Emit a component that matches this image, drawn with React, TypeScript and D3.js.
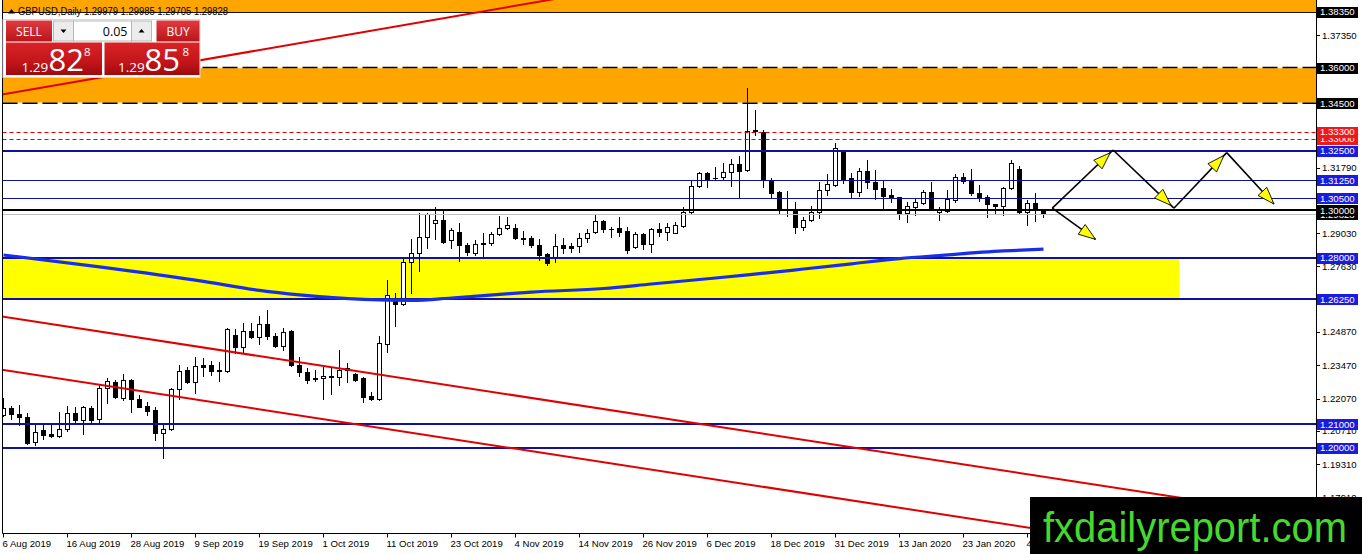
import React from "react";
import * as d3 from "d3";

// ---- data ----
const opens = [
  1.2138, 1.2166, 1.2141, 1.2128, 1.2025, 1.2074, 1.2058, 1.2051, 1.2077, 1.2145,
  1.2117, 1.2166, 1.2120, 1.2250, 1.2278, 1.2210, 1.2285, 1.2205, 1.2176, 1.2159,
  1.2061, 1.2077, 1.2246, 1.2327, 1.2278, 1.2347, 1.2347, 1.2326, 1.2324, 1.2474,
  1.2423, 1.2492, 1.2465, 1.2519, 1.2470, 1.2429, 1.2491, 1.2348, 1.2320, 1.2292,
  1.2292, 1.2296, 1.2299, 1.2334, 1.2310, 1.2292, 1.2218, 1.2204, 1.2436, 1.2622,
  1.2605, 1.2783, 1.2821, 1.2886, 1.2947, 1.2958, 1.2874, 1.2909, 1.2853, 1.2818,
  1.2860, 1.2860, 1.2899, 1.2923, 1.2923, 1.2881, 1.2881, 1.2853, 1.2814, 1.2797,
  1.2852, 1.2848, 1.2850, 1.2881, 1.2907, 1.2954, 1.2920, 1.2923, 1.2912, 1.2846,
  1.2899, 1.2857, 1.2919, 1.2907, 1.2905, 1.2934, 1.2991, 1.3101, 1.3155, 1.3136,
  1.3141, 1.3159, 1.3193, 1.3169, 1.3337, 1.3330, 1.3127, 1.3075, 1.3005, 1.3003,
  1.2930, 1.2958, 1.2991, 1.3085, 1.3106, 1.3246, 1.3134, 1.3077, 1.3166, 1.3117,
  1.3092, 1.3064, 1.3054, 1.2987, 1.3014, 1.3031, 1.3075, 1.2991, 1.2997, 1.3043,
  1.3138, 1.3124, 1.3071, 1.3054, 1.3024, 1.3017, 1.3092, 1.3173, 1.2993, 1.3029,
  1.29979,
];
const highs = [
  1.2208, 1.2176, 1.2178, 1.2145, 1.2096, 1.2096, 1.2100, 1.2149, 1.2176, 1.2173,
  1.2176, 1.2176, 1.2264, 1.2292, 1.2285, 1.2310, 1.2288, 1.2222, 1.2194, 1.2173,
  1.2103, 1.2250, 1.2348, 1.2341, 1.2380, 1.2376, 1.2366, 1.2362, 1.2503, 1.2498,
  1.2524, 1.2524, 1.2554, 1.2580, 1.2484, 1.2503, 1.2495, 1.2380, 1.2334, 1.2327,
  1.2341, 1.2334, 1.2411, 1.2355, 1.2316, 1.2299, 1.2236, 1.2470, 1.2706, 1.2650,
  1.2797, 1.2877, 1.2987, 1.2987, 1.3014, 1.3000, 1.2923, 1.2947, 1.2860, 1.2874,
  1.2905, 1.2909, 1.2975, 1.2970, 1.2942, 1.2913, 1.2891, 1.2877, 1.2818, 1.2898,
  1.2881, 1.2860, 1.2902, 1.2919, 1.2984, 1.2958, 1.2928, 1.2970, 1.2928, 1.2907,
  1.2902, 1.2923, 1.2944, 1.2947, 1.2951, 1.3012, 1.3124, 1.3162, 1.3162, 1.3180,
  1.3200, 1.3214, 1.3228, 1.3513, 1.3421, 1.3337, 1.3134, 1.3080, 1.3080, 1.3035,
  1.2972, 1.3017, 1.3120, 1.3151, 1.3284, 1.3250, 1.3155, 1.3176, 1.3211, 1.3169,
  1.3124, 1.3088, 1.3056, 1.3035, 1.3045, 1.3085, 1.3117, 1.3014, 1.3085, 1.3152,
  1.3155, 1.3172, 1.3106, 1.3064, 1.3026, 1.3098, 1.3211, 1.3186, 1.3043, 1.3071,
  1.29985,
];
const lows = [
  1.2133, 1.2120, 1.2096, 1.2016, 1.2011, 1.2035, 1.2044, 1.2046, 1.2072, 1.2103,
  1.2058, 1.2109, 1.2105, 1.2189, 1.2208, 1.2201, 1.2152, 1.2170, 1.2138, 1.2032,
  1.1955, 1.2074, 1.2204, 1.2274, 1.2231, 1.2302, 1.2306, 1.2282, 1.2320, 1.2397,
  1.2397, 1.2460, 1.2436, 1.2456, 1.2425, 1.2411, 1.2345, 1.2302, 1.2271, 1.2281,
  1.2204, 1.2226, 1.2264, 1.2278, 1.2282, 1.2194, 1.2201, 1.2201, 1.2404, 1.2512,
  1.2601, 1.2652, 1.2745, 1.2839, 1.2877, 1.2860, 1.2839, 1.2787, 1.2811, 1.2811,
  1.2807, 1.2853, 1.2895, 1.2919, 1.2877, 1.2857, 1.2843, 1.2790, 1.2769, 1.2783,
  1.2818, 1.2825, 1.2825, 1.2864, 1.2902, 1.2909, 1.2886, 1.2891, 1.2821, 1.2839,
  1.2835, 1.2825, 1.2891, 1.2874, 1.2902, 1.2928, 1.2982, 1.3098, 1.3098, 1.3127,
  1.3131, 1.3103, 1.3050, 1.3165, 1.3316, 1.3098, 1.3056, 1.2989, 1.2975, 1.2902,
  1.2916, 1.2954, 1.2966, 1.3064, 1.3103, 1.3113, 1.3050, 1.3059, 1.3092, 1.3045,
  1.3010, 1.3035, 1.2961, 1.2951, 1.2979, 1.3026, 1.3000, 1.2958, 1.2993, 1.3035,
  1.3115, 1.3064, 1.3040, 1.2972, 1.2984, 1.2979, 1.3088, 1.2984, 1.2937, 1.2955,
  1.29705,
];
const closes = [
  1.2166, 1.2142, 1.2128, 1.2021, 1.2067, 1.2055, 1.2051, 1.2077, 1.2145, 1.2117,
  1.2170, 1.2117, 1.2250, 1.2281, 1.2215, 1.2285, 1.2204, 1.2173, 1.2156, 1.2061,
  1.2077, 1.2246, 1.2324, 1.2278, 1.2344, 1.2341, 1.2324, 1.2324, 1.2498, 1.2423,
  1.2492, 1.2465, 1.2519, 1.2470, 1.2429, 1.2488, 1.2348, 1.2320, 1.2285, 1.2290,
  1.2302, 1.2302, 1.2327, 1.2327, 1.2285, 1.2215, 1.2204, 1.2439, 1.2643, 1.2605,
  1.2783, 1.2821, 1.2886, 1.2984, 1.2958, 1.2867, 1.2916, 1.2853, 1.2825, 1.2857,
  1.2859, 1.2899, 1.2923, 1.2937, 1.2881, 1.2880, 1.2853, 1.2811, 1.2776, 1.2850,
  1.2842, 1.2840, 1.2881, 1.2902, 1.2954, 1.2920, 1.2919, 1.2909, 1.2832, 1.2898,
  1.2857, 1.2919, 1.2907, 1.2928, 1.2937, 1.2993, 1.3101, 1.3155, 1.3131, 1.3134,
  1.3159, 1.3193, 1.3166, 1.3334, 1.3333, 1.3127, 1.3073, 1.3003, 1.3003, 1.2930,
  1.2958, 1.2991, 1.3085, 1.3109, 1.3260, 1.3131, 1.3077, 1.3166, 1.3117, 1.3089,
  1.3061, 1.3056, 1.2987, 1.3017, 1.3034, 1.3077, 1.3003, 1.3003, 1.3045, 1.3138,
  1.3122, 1.3071, 1.3054, 1.3024, 1.3017, 1.3092, 1.3200, 1.2993, 1.3029, 1.3000,
  1.29828,
];

const dateTickBars = [0, 8, 16, 24, 32, 40, 48, 56, 64, 72, 80, 88, 96, 104, 112, 120, 128];
const dateTickLabels = [
  "6 Aug 2019", "16 Aug 2019", "28 Aug 2019", "9 Sep 2019", "19 Sep 2019", "1 Oct 2019",
  "11 Oct 2019", "23 Oct 2019", "4 Nov 2019", "14 Nov 2019", "26 Nov 2019", "6 Dec 2019",
  "18 Dec 2019", "31 Dec 2019", "13 Jan 2020", "23 Jan 2020", "4 Feb 2020",
];

const priceTicks = [
  1.3735, 1.3595, 1.3457, 1.3319, 1.3179, 1.3043, 1.2903, 1.2763, 1.2623, 1.2487,
  1.2347, 1.2207, 1.2071, 1.1931, 1.1791,
];

const maBars = [0, 12, 25, 32, 37, 45, 51, 56, 62, 66, 75, 81, 87, 93, 100, 106, 112, 117, 125, 130];
const maValues = [
  1.2811, 1.2761, 1.2700, 1.2662, 1.2643, 1.2624, 1.2620, 1.2630, 1.2645, 1.2655,
  1.2670, 1.2689, 1.2708, 1.2727, 1.2752, 1.2774, 1.2796, 1.2809, 1.2828, 1.2836,
];

const topZoneFloor = 1.3835;
const orangeZone = [1.345, 1.36];
const yellowZone = [1.2625, 1.28];
const yellowZoneEndBar = 147;
const redDashLevels = [1.333, 1.33];
const majorBlueLevels = [1.325, 1.28, 1.2625, 1.21, 1.2];
const minorBlueLevels = [1.3125, 1.305];
const roundLevel = 1.3;
const bidPrice = 1.29828;

const trendTop = [[-0.4, 1.3485], [70, 1.3895]];
const channelUpper = [[-1, 1.2556], [170, 1.1671]];
const channelLower = [[-1, 1.2332], [170, 1.1447]];

const arrowLegs = [
  [[131.1, 1.3008], [138.7, 1.3253]],
  [[138.7, 1.3253], [146.3, 1.3008]],
  [[146.3, 1.3008], [152.9, 1.3242]],
  [[152.9, 1.3242], [158.8, 1.3026]],
  [[131.1, 1.3008], [136.5, 1.2877]],
];
const arrowTipOffsets = [4, 4, 4, 0, 0];

const boxedLabels = [
  { v: 1.3835, c: "black" },
  { v: 1.36, c: "black" },
  { v: 1.345, c: "black" },
  { v: 1.33, c: "red" },
  { v: 1.333, c: "red" },
  { v: 1.325, c: "blue" },
  { v: 1.3125, c: "blue" },
  { v: 1.305, c: "blue" },
  { v: 1.29828, c: "black" },
  { v: 1.3, c: "black" },
  { v: 1.28, c: "blue" },
  { v: 1.2625, c: "blue" },
  { v: 1.21, c: "blue" },
  { v: 1.2, c: "blue" },
];

const headerText = "GBPUSD,Daily  1.29979 1.29985 1.29705 1.29828";

export default function App() {
  const W = 1362;
  const H = 554;
  const plotLeft = 2.5;
  const plotRight = 1316.5;
  const plotBottom = 533.5;

  const x = d3.scaleLinear().domain([0, 130]).range([3.5, 1043.5]);
  const y = d3.scaleLinear().domain([1.2, 1.3835]).range([447.7, 11.7]);
  const py = (v: number) => Math.round(y(v)) + 0.5;
  const py2 = (v: number) => Math.round(y(v));

  const boxColor: Record<string, string> = { black: "#000000", red: "#f01818", blue: "#1a1ae0" };
  const lineBlue = "#10109f";
  const font = "'Liberation Sans', Arial, sans-serif";
  const uiFont = "'Open Sans', 'Liberation Sans', sans-serif";

  const maLine = d3
    .line<number>()
    .x((_, i) => x(maBars[i]))
    .y((d) => y(d))
    .curve(d3.curveMonotoneX);

  const seg = d3
    .line<number[]>()
    .x((d) => x(d[0]))
    .y((d) => y(d[1]));

  const arrowHeads = arrowLegs.map((leg, i) => {
    const x0 = x(leg[0][0]);
    const y0 = y(leg[0][1]);
    const x1 = x(leg[1][0]);
    const y1 = y(leg[1][1]);
    const len = Math.hypot(x1 - x0, y1 - y0);
    const ux = (x1 - x0) / len;
    const uy = (y1 - y0) / len;
    const tx = x1 - ux * arrowTipOffsets[i];
    const ty = y1 - uy * arrowTipOffsets[i];
    const bx = tx - ux * 17;
    const by = ty - uy * 17;
    const hw = 6;
    return `M${tx},${ty}L${bx - uy * hw},${by + ux * hw}L${bx + uy * hw},${by - ux * hw}Z`;
  });

  return (
    <svg
      width={W}
      height={H}
      viewBox={`0 0 ${W} ${H}`}
      style={{ position: "absolute", left: 0, top: 0, background: "#ffffff" }}
    >
      <defs>
        <clipPath id="plot">
          <rect x={plotLeft} y={0} width={plotRight - plotLeft} height={plotBottom} />
        </clipPath>
        <linearGradient id="btnGrad" x1="0" y1="0" x2="0" y2="1">
          <stop offset="0" stopColor="#e23a3f" />
          <stop offset="1" stopColor="#b8161c" />
        </linearGradient>
        <linearGradient id="priceGrad" x1="0" y1="0" x2="0" y2="1">
          <stop offset="0" stopColor="#d92327" />
          <stop offset="0.6" stopColor="#c3151a" />
          <stop offset="1" stopColor="#9e0a0f" />
        </linearGradient>
      </defs>

      <rect x={0} y={0} width={W} height={H} fill="#ffffff" />

      <g clipPath="url(#plot)">
        {/* zones */}
        <rect x={plotLeft} y={0} width={plotRight - plotLeft} height={py(topZoneFloor)} fill="#ffa500" />
        <rect
          x={plotLeft}
          y={y(orangeZone[1])}
          width={plotRight - plotLeft}
          height={y(orangeZone[0]) - y(orangeZone[1])}
          fill="#ffa500"
        />
        <rect
          x={plotLeft}
          y={y(yellowZone[1])}
          width={x(yellowZoneEndBar) - plotLeft}
          height={y(yellowZone[0]) - y(yellowZone[1])}
          fill="#ffff00"
        />

        {/* candles */}
        {opens.map((o, i) => {
          const c = closes[i];
          const cx = x(i);
          const top = py(Math.max(o, c));
          const bot = py(Math.min(o, c));
          const bull = c >= o;
          return (
            <g key={i}>
              <line x1={cx} x2={cx} y1={py2(highs[i])} y2={py2(lows[i]) + 1} stroke="#000" strokeWidth={1} />
              {bot - top < 1 ? (
                <line x1={cx - 2.5} x2={cx + 2.5} y1={top} y2={top} stroke="#000" strokeWidth={1} />
              ) : (
                <rect
                  x={cx - 2}
                  y={top}
                  width={4}
                  height={bot - top}
                  fill={bull ? "#ffffff" : "#000000"}
                  stroke="#000"
                  strokeWidth={1}
                />
              )}
            </g>
          );
        })}

        {/* horizontal levels */}
        <line x1={plotLeft} x2={plotRight} y1={py(topZoneFloor)} y2={py(topZoneFloor)} stroke="#1a1000" strokeWidth={1} />
        {orangeZone.map((v, i) => (
          <g key={"oz" + i}>
            <line x1={plotLeft} x2={plotRight} y1={y(v)} y2={y(v)} stroke="#fff4c4" strokeWidth={1.6} />
            <line
              x1={plotLeft}
              x2={plotRight}
              y1={y(v)}
              y2={y(v)}
              stroke="#000"
              strokeWidth={1.6}
              strokeDasharray="15,5"
            />
          </g>
        ))}
        {redDashLevels.map((v, i) => (
          <line
            key={"rd" + i}
            x1={plotLeft}
            x2={plotRight}
            y1={py(v)}
            y2={py(v)}
            stroke="#e00000"
            strokeWidth={1}
            strokeDasharray="4,3"
          />
        ))}
        {minorBlueLevels.map((v, i) => (
          <line key={"mb" + i} x1={plotLeft} x2={plotRight} y1={py(v)} y2={py(v)} stroke={lineBlue} strokeWidth={1} />
        ))}
        {majorBlueLevels.map((v, i) => (
          <line key={"Mb" + i} x1={plotLeft} x2={plotRight} y1={py2(v)} y2={py2(v)} stroke={lineBlue} strokeWidth={2.2} />
        ))}
        <line x1={plotLeft} x2={plotRight} y1={py(bidPrice)} y2={py(bidPrice)} stroke="#c0c0c0" strokeWidth={1} />
        <line x1={plotLeft} x2={plotRight} y1={py2(roundLevel)} y2={py2(roundLevel)} stroke="#000" strokeWidth={2.2} />

        {/* trend lines */}
        {[trendTop, channelUpper, channelLower].map((pts, i) => (
          <path key={"tl" + i} d={seg(pts) || ""} stroke="#e00000" strokeWidth={2} fill="none" />
        ))}

        {/* moving average */}
        <path d={maLine(maValues) || ""} stroke="#1a2ee8" strokeWidth={3.2} fill="none" />

        {/* arrows */}
        {arrowLegs.map((leg, i) => (
          <path key={"al" + i} d={seg(leg) || ""} stroke="#000" strokeWidth={1.6} fill="none" />
        ))}
        {arrowHeads.map((d, i) => (
          <path key={"ah" + i} d={d} fill="#ffff00" stroke="#000" strokeWidth={0.9} strokeLinejoin="round" />
        ))}
      </g>

      {/* frame */}
      <line x1={plotLeft} x2={plotLeft} y1={0} y2={plotBottom} stroke="#000" strokeWidth={1} />
      <line x1={plotRight} x2={plotRight} y1={0} y2={plotBottom} stroke="#000" strokeWidth={1} />
      <line x1={plotLeft} x2={plotRight} y1={plotBottom} y2={plotBottom} stroke="#000" strokeWidth={1} />

      {/* x axis */}
      {dateTickBars.map((b, i) => (
        <g key={"dt" + i}>
          <line x1={x(b)} x2={x(b)} y1={plotBottom} y2={plotBottom + 4} stroke="#000" strokeWidth={1} />
          <text x={x(b) - 1} y={547} fontFamily={font} fontSize={9.6} fill="#000">
            {dateTickLabels[i]}
          </text>
        </g>
      ))}

      {/* y axis */}
      {priceTicks.map((v, i) => (
        <g key={"pt" + i}>
          <line x1={plotRight} x2={plotRight + 3.5} y1={py(v)} y2={py(v)} stroke="#000" strokeWidth={1} />
          <text x={1322} y={y(v) + 3.5} fontFamily={font} fontSize={9.6} fill="#000">
            {v.toFixed(5)}
          </text>
        </g>
      ))}
      {boxedLabels.map((b, i) => (
        <g key={"bl" + i}>
          <rect x={1317} y={Math.round(y(b.v)) - 5} width={41} height={11} fill={boxColor[b.c]} />
          <text x={1320} y={y(b.v) + 3.6} fontFamily={font} fontSize={9.6} fill="#ffffff">
            {b.v.toFixed(5)}
          </text>
        </g>
      ))}

      {/* header */}
      <path d="M8,13.5L11.5,9L15,13.5Z" fill="#000" />
      <text x={18} y={14.5} fontFamily={font} fontSize={10.5} fill="#000" textLength={210} lengthAdjust="spacingAndGlyphs">
        {headerText}
      </text>

      {/* trade panel */}
      <g>
        <rect x={3} y={19.5} width={197} height={58} fill="#ffffff" stroke="#d8d8d8" strokeWidth={1} />
        <rect x={6} y={20.5} width={46} height={21} fill="url(#btnGrad)" />
        <text x={29} y={35.5} textAnchor="middle" fontFamily={uiFont} fontSize={12} fill="#ffffff">
          SELL
        </text>
        <rect x={53.5} y={21} width={20} height={20} fill="#ececec" stroke="#b8b8b8" strokeWidth={1} />
        <path d="M60.5,29.5L66.5,29.5L63.5,33Z" fill="#000" />
        <rect x={73.5} y={21} width={58} height={20} fill="#ffffff" stroke="#b8b8b8" strokeWidth={1} />
        <text x={127.5} y={35.5} textAnchor="end" fontFamily={uiFont} fontSize={12.5} fill="#000">
          0.05
        </text>
        <rect x={131.5} y={21} width={20} height={20} fill="#ececec" stroke="#b8b8b8" strokeWidth={1} />
        <path d="M138.5,32.5L144.5,32.5L141.5,29Z" fill="#000" />
        <rect x={156.5} y={20.5} width={43} height={21} fill="url(#btnGrad)" />
        <text x={178} y={35.5} textAnchor="middle" fontFamily={uiFont} fontSize={12} fill="#ffffff">
          BUY
        </text>

        <rect x={6} y={42.5} width={96} height={32.5} fill="url(#priceGrad)" />
        <text x={21.5} y={71.5} fontFamily={uiFont} fontSize={13.5} fill="#ffffff">
          1.29
        </text>
        <text x={48.5} y={70.5} fontFamily={uiFont} fontSize={31} fill="#ffffff">
          82
        </text>
        <text x={84} y={56} fontFamily={uiFont} fontSize={11.5} fill="#ffffff">
          8
        </text>

        <rect x={104.5} y={42.5} width={95} height={32.5} fill="url(#priceGrad)" />
        <text x={118} y={71.5} fontFamily={uiFont} fontSize={13.5} fill="#ffffff">
          1.29
        </text>
        <text x={144.5} y={70.5} fontFamily={uiFont} fontSize={31} fill="#ffffff">
          85
        </text>
        <text x={182.5} y={56} fontFamily={uiFont} fontSize={11.5} fill="#ffffff">
          8
        </text>
      </g>

      {/* watermark */}
      <rect x={1030} y={497} width={332} height={57} fill="#000000" />
      <text
        x={1043}
        y={542}
        fontFamily={font}
        fontSize={43}
        fill="#45d92e"
        textLength={304}
        lengthAdjust="spacingAndGlyphs"
      >
        fxdailyreport.com
      </text>
    </svg>
  );
}
